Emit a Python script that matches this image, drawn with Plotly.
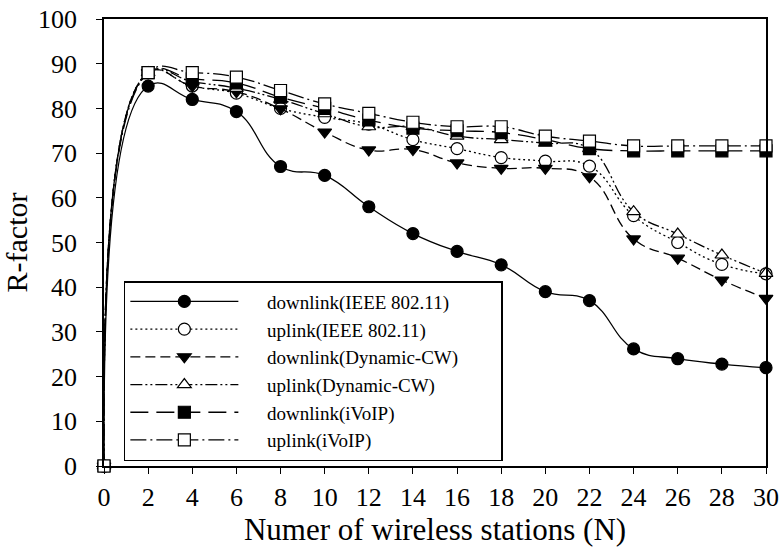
import plotly.graph_objects as go

x_vals = [0, 2, 4, 6, 8, 10, 12, 14, 16, 18, 20, 22, 24, 26, 28, 30]

down_ieee = [0, 85, 82, 79.3, 67, 65, 58, 52, 48, 45, 39, 37, 26.2, 24, 22.8, 22]
up_ieee = [0, 88, 85, 83.4, 80, 78, 76.5, 73, 71, 69, 68.2, 67.1, 56, 50, 45.1, 43]
down_dcw = [0, 88, 85, 83.7, 79.9, 74.7, 70.7, 70.8, 67.8, 66.6, 66.6, 64.7, 50.8, 46.5, 41.6, 37.5]
up_dcw = [0, 88, 86, 84.5, 82, 78.8, 75.9, 75.9, 73.8, 73, 72.2, 71, 56.9, 51.9, 47.2, 43.1]
down_ivoip = [0, 88, 86.6, 85.7, 82.5, 80, 77.4, 75.6, 75, 74.6, 73, 71, 70.5, 70.5, 70.5, 70.5]
up_ivoip = [0, 88, 88, 87, 84, 81, 78.9, 76.9, 75.9, 75.9, 73.8, 72.7, 71.6, 71.6, 71.6, 71.6]

y_ticks = list(range(0, 101, 10))

series = [
    ("downlink(IEEE 802.11)", down_ieee, "solid", "circle", "black"),
    ("uplink(IEEE 802.11)", up_ieee, "2px,3px", "circle", "white"),
    ("downlink(Dynamic-CW)", down_dcw, "10px,5px", "triangle-down", "black"),
    ("uplink(Dynamic-CW)", up_dcw, "12px,3px,2px,3px,2px,3px", "triangle-up", "white"),
    ("downlink(iVoIP)", down_ivoip, "18px,8px", "square", "black"),
    ("uplink(iVoIP)", up_ivoip, "16px,4px,2px,4px", "square", "white"),
]

pad = "\u00a0" * 5
tail = "\u00a0" * 8
fig = go.Figure()
for name, ys, dash, sym, fill in series:
    fig.add_trace(go.Scatter(
        x=x_vals, y=ys, name=pad + name + tail, mode="lines+markers",
        line=dict(color="black", width=1.3, dash=dash, shape="spline", smoothing=1.3),
        marker=dict(symbol=sym, size=12, color=fill, line=dict(color="black", width=1.2)),
        cliponaxis=False,
    ))

ff = "Liberation Serif"
fig.update_layout(
    width=784, height=550,
    margin=dict(l=104, r=18, t=19, b=84),
    paper_bgcolor="white", plot_bgcolor="white",
    font=dict(family=ff, color="black"),
    showlegend=True,
    legend=dict(
        x=0.03, y=0.011, xanchor="left", yanchor="bottom",
        bgcolor="white", bordercolor="black", borderwidth=1.5,
        font=dict(size=19, family=ff, color="black"),
        itemwidth=108, tracegroupgap=0,
    ),
    xaxis=dict(
        range=[0, 30], tickmode="array", tickvals=x_vals,
        ticks="outside", ticklen=6, tickwidth=1.2, tickcolor="black",
        showline=True, linecolor="black", linewidth=1.5, mirror=True,
        showgrid=False, zeroline=False, ticklabelstandoff=1, automargin=False,
        tickfont=dict(size=26, family=ff),
        title=dict(text="Numer of wireless stations (N)", font=dict(size=31, family=ff), standoff=0),
    ),
    yaxis=dict(
        range=[0, 100], tickmode="array", tickvals=y_ticks,
        ticks="outside", ticklen=6, tickwidth=1.2, tickcolor="black",
        showline=True, linecolor="black", linewidth=1.5, mirror=True,
        showgrid=False, zeroline=False, ticklabelstandoff=14, automargin=False,
        tickfont=dict(size=26, family=ff),
        title=dict(text="R-factor", font=dict(size=30, family=ff), standoff=6),
    ),
)

fig.write_html("out.html")
